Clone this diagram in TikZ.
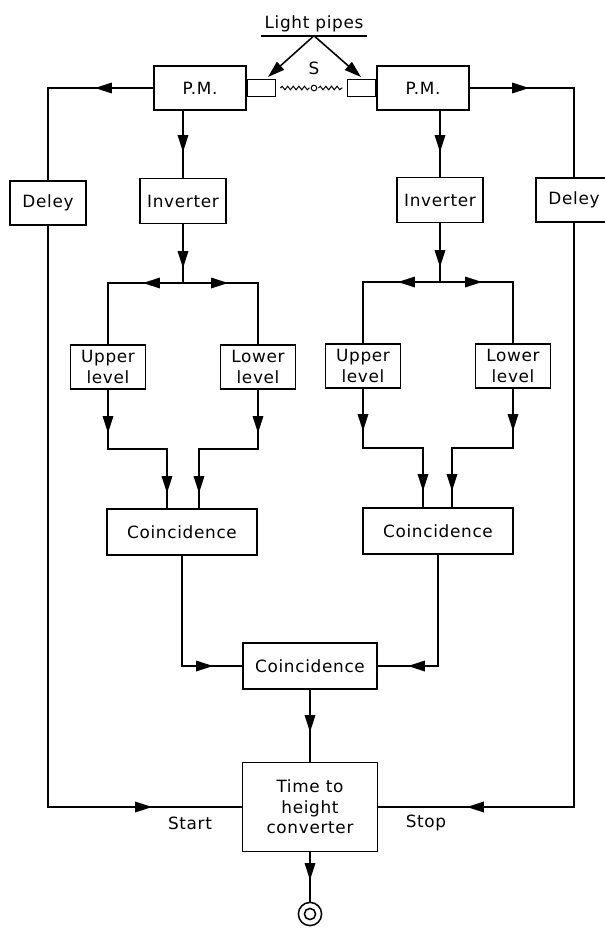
\documentclass[tikz,border=0pt]{standalone}
\usepackage{fontspec}
\newfontfamily\letterfont[LetterSpace=4]{DejaVu Sans}
\usetikzlibrary{arrows.meta,decorations.pathmorphing}

\tikzset{block/.style={draw,line width=1.1pt,inner sep=0pt,align=center,font=\letterfont\fontsize{12}{14.5}\selectfont},
caption/.style={font=\letterfont\fontsize{12}{14.5}\selectfont,inner sep=0pt},
flow/.style={-{Triangle[length=12pt,width=7.5pt]}},
wire/.style={line width=1.1pt},
wave/.style={line width=0.7pt,decorate,decoration={snake,amplitude=0.045cm,segment length=0.14cm}}}

\begin{document}
\begin{tikzpicture}[x=0.025cm,y=-0.025cm,wire]
\useasboundingbox (0,0) rectangle (605,928);

%% boxes
\node [block,minimum width=2.3cm,minimum height=1.1cm] (pmL) at (200,88) {P.M.};
\node [block,minimum width=2.3cm,minimum height=1.1cm] (pmR) at (423,88) {P.M.};
\node [block,minimum width=0.7cm,minimum height=0.42cm,anchor=west] (pipeL) at (pmL.east) {};
\node [block,minimum width=0.7cm,minimum height=0.42cm,anchor=east] (pipeR) at (pmR.west) {};
\node [block,minimum width=1.9cm,minimum height=1.1cm] (delL) at (48,203) {Deley};
\node [block,minimum width=1.9cm,minimum height=1.1cm] (delR) at (574,200) {Deley};
\node [block,minimum width=2.15cm,minimum height=1.12cm] (invL) at (183,201) {Inverter};
\node [block,minimum width=2.15cm,minimum height=1.12cm] (invR) at (440,200) {Inverter};
\node [block,minimum width=1.88cm,minimum height=1.1cm] (upL) at (108,367) {Upper\\level};
\node [block,minimum width=1.88cm,minimum height=1.1cm] (loL) at (258,367) {Lower\\level};
\node [block,minimum width=1.88cm,minimum height=1.1cm] (upR) at (363,366) {Upper\\level};
\node [block,minimum width=1.88cm,minimum height=1.1cm] (loR) at (513,366) {Lower\\level};
\node [block,minimum width=3.75cm,minimum height=1.15cm] (coL) at (182,532) {Coincidence};
\node [block,minimum width=3.75cm,minimum height=1.15cm] (coR) at (438,531) {Coincidence};
\node [block,minimum width=3.35cm,minimum height=1.15cm] (coC) at (310,666) {Coincidence};
\node [block,minimum width=3.38cm,minimum height=2.22cm] (conv) at (310,807) {Time to\\height\\converter};
\node [circle,draw,inner sep=0pt,minimum size=0.58cm] (out) at (310,914) {};
\node [circle,draw,inner sep=0pt,minimum size=0.28cm] (outin) at (out.center) {};

%% source and light pipes
\node [caption,inner sep=2pt] (lp) at (314,24) {Light pipes};
\node [caption] (s) at (314,68) {S};
\node [circle,draw,line width=0.7pt,inner sep=0pt,minimum size=0.14cm] (src) at (314,88) {};
\coordinate (tipL) at (268,77);
\coordinate (tipR) at (361,77);
\draw (lp.south west) -- (lp.south east);
\draw [flow] (lp.south) -- (tipL);
\draw [flow] (lp.south) -- (tipR);
\draw [wave] ([xshift=0.1cm]pipeL.east) -- ([xshift=-0.03cm]src.west);
\draw [wave] ([xshift=0.03cm]src.east) -- ([xshift=-0.1cm]pipeR.west);

%% start and stop loops
\coordinate (a1) at (95,88);
\coordinate (c1) at (48,88);
\coordinate (c2) at (48,807);
\coordinate (a2) at (152,807);
\draw (pmL.west) -- (c1) -- (delL.north);
\draw [flow] (pmL.west) -- (a1);
\draw (delL.south) -- (c2) -- (conv.west);
\draw [flow] (delL.south) -- (c2) -- (a2);
\coordinate (a3) at (529,88);
\coordinate (c3) at (574,88);
\coordinate (c4) at (574,807);
\coordinate (a4) at (467,807);
\draw (pmR.east) -- (c3) -- (delR.north);
\draw [flow] (pmR.east) -- (a3);
\draw (delR.south) -- (c4) -- (conv.east);
\draw [flow] (delR.south) -- (c4) -- (a4);

%% photomultipliers to inverters
\coordinate (a5) at (183,152);
\coordinate (a6) at (440,152);
\draw (pmL.south -| invL.north) -- (invL.north);
\draw [flow] (pmL.south -| invL.north) -- (a5);
\draw (pmR.south -| invR.north) -- (invR.north);
\draw [flow] (pmR.south -| invR.north) -- (a6);

%% left channel
\coordinate (sL) at (183,283);
\coordinate (a7) at (183,268);
\coordinate (a8) at (143,283);
\coordinate (a9) at (228,283);
\draw (invL.south) -- (sL);
\draw [flow] (invL.south) -- (a7);
\draw (upL.north) -- (upL.north |- sL) -- (loL.north |- sL) -- (loL.north);
\draw [flow] (sL) -- (a8);
\draw [flow] (sL) -- (a9);
\coordinate (a10) at (108,433);
\coordinate (j1) at (108,449);
\coordinate (j2) at (167,449);
\coordinate (a11) at (167,493);
\draw (upL.south) -- (j1) -- (j2) -- (j2 |- coL.north);
\draw [flow] (upL.south) -- (a10);
\draw [flow] (j2) -- (a11);
\coordinate (a12) at (258,433);
\coordinate (j3) at (258,449);
\coordinate (j4) at (199,449);
\coordinate (a13) at (199,493);
\draw (loL.south) -- (j3) -- (j4) -- (j4 |- coL.north);
\draw [flow] (loL.south) -- (a12);
\draw [flow] (j4) -- (a13);

%% right channel
\coordinate (sR) at (440,282);
\coordinate (a14) at (440,267);
\coordinate (a15) at (398,282);
\coordinate (a16) at (482,282);
\draw (invR.south) -- (sR);
\draw [flow] (invR.south) -- (a14);
\draw (upR.north) -- (upR.north |- sR) -- (loR.north |- sR) -- (loR.north);
\draw [flow] (sR) -- (a15);
\draw [flow] (sR) -- (a16);
\coordinate (a17) at (363,431);
\coordinate (j5) at (363,448);
\coordinate (j6) at (423,448);
\coordinate (a18) at (423,491);
\draw (upR.south) -- (j5) -- (j6) -- (j6 |- coR.north);
\draw [flow] (upR.south) -- (a17);
\draw [flow] (j6) -- (a18);
\coordinate (a19) at (513,431);
\coordinate (j7) at (513,448);
\coordinate (j8) at (452,448);
\coordinate (a20) at (452,491);
\draw (loR.south) -- (j7) -- (j8) -- (j8 |- coR.north);
\draw [flow] (loR.south) -- (a19);
\draw [flow] (j8) -- (a20);

%% final coincidence and converter
\coordinate (a21) at (213,666);
\coordinate (a22) at (408,666);
\coordinate (a23) at (310,732);
\coordinate (a24) at (310,880);
\draw (coL.south) -- (coL.south |- coC.west) -- (coC.west);
\draw [flow] (coL.south |- coC.west) -- (a21);
\draw (coR.south) -- (coR.south |- coC.east) -- (coC.east);
\draw [flow] (coR.south |- coC.east) -- (a22);
\draw (coC.south) -- (conv.north);
\draw [flow] (coC.south) -- (a23);
\draw (conv.south) -- (out.north);
\draw [flow] (conv.south) -- (a24);

%% start / stop labels
\node [caption] (start) at (190,823) {Start};
\node [caption] (stop) at (426,823) {Stop};

\end{tikzpicture}
\end{document}
